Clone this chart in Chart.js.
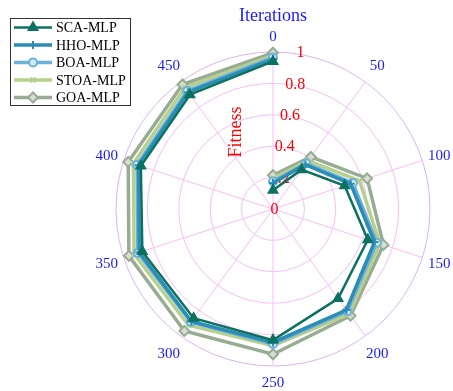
<!DOCTYPE html>
<html>
<head>
<meta charset="utf-8">
<script src="https://cdn.jsdelivr.net/npm/chart.js@4.4.1/dist/chart.umd.min.js"></script>
<style>
  html, body { margin: 0; padding: 0; background: #fff; }
</style>
</head>
<body>
<canvas id="chart" width="453" height="391"></canvas>
<script>
// iterations 0..500, 500 falls on the same spoke as 0
const iterations = [0, 50, 100, 150, 200, 250, 300, 350, 400, 450, 500];
const angleLabels = ["0", "50", "100", "150", "200", "250", "300", "350", "400", "450"];
const radialTicks = [0, 0.2, 0.4, 0.6, 0.8, 1];

const seriesNames = ["SCA-MLP", "HHO-MLP", "BOA-MLP", "STOA-MLP", "GOA-MLP"];
const scaMlp  = [0.12, 0.31, 0.48, 0.635, 0.705, 0.835, 0.86, 0.875, 0.885, 0.90, 0.94];
const hhoMlp  = [0.165, 0.35, 0.52, 0.68, 0.795, 0.85, 0.885, 0.895, 0.90, 0.92, 0.955];
const boaMlp  = [0.175, 0.36, 0.535, 0.695, 0.805, 0.86, 0.89, 0.905, 0.91, 0.93, 0.965];
const stoaMlp = [0.195, 0.38, 0.58, 0.715, 0.825, 0.87, 0.915, 0.93, 0.935, 0.955, 0.978];
const goaMlp  = [0.215, 0.41, 0.63, 0.74, 0.84, 0.925, 0.96, 0.965, 0.97, 0.98, 0.995];

const seriesValues = [scaMlp, hhoMlp, boaMlp, stoaMlp, goaMlp];
const lineColors = ["#0b7262", "#2b8db3", "#6db0da", "#b7d08c", "#98ab93"];
const pointFills = ["#0b7262", "#2b8db3", "#d6eaf6", "#b7d08c", "#d8ded5"];
const pointStyles = ["triangle", "cross", "circle", "crossRot", "rectRot"];
const pointSizes = [5, 4, 4, 3.5, 5];
const lineWidths = [2.5, 3.5, 3.5, 3.5, 3.5];

const serif = '"Liberation Serif", "Times New Roman", serif';
const gridPink = "#f6bff6";
const outerRing = "#d9b4f8";
const gap = [null, null, null, null, null, null, null, null];

function lineSet(i, label, data, firstOnly) {
  return {
    label: label,
    data: data,
    borderColor: lineColors[i],
    borderWidth: lineWidths[i],
    backgroundColor: "transparent",
    fill: false,
    pointStyle: pointStyles[i],
    pointRadius: firstOnly ? (ctx) => (ctx.dataIndex === 0 ? pointSizes[i] : 0) : pointSizes[i],
    pointBorderWidth: 2,
    pointBorderColor: lineColors[i],
    pointBackgroundColor: pointFills[i]
  };
}

// body: 50..450 (index 0 left empty so the loop stays open)
const mainSets = seriesValues.map((vals, i) =>
  lineSet(i, seriesNames[i], [null].concat(vals.slice(1, 10)), false));
// first leg: 0 -> 50
const headSets = seriesValues.map((vals, i) =>
  lineSet(i, seriesNames[i] + " start", [vals[0], vals[1]].concat(gap), true));
// last leg: 450 -> 500 (500 sits on the 0 spoke)
const tailSets = seriesValues.map((vals, i) =>
  lineSet(i, seriesNames[i] + " end", [vals[10]].concat(gap, [vals[9]]), true));

const overlay = {
  id: "overlay",
  beforeDatasetsDraw(chart) {
    const ctx = chart.ctx;
    const r = chart.scales.r;
    ctx.save();
    ctx.fillStyle = "#ff0000";
    ctx.font = "16px " + serif;
    ctx.textAlign = "center";
    ctx.textBaseline = "middle";
    radialTicks.forEach((v) => {
      const d = r.getDistanceFromCenterForValue(v);
      ctx.fillText(String(v), r.xCenter + 1.5 + 0.165 * d, r.yCenter - d + 1);
    });
    ctx.restore();
  },
  afterDraw(chart) {
    const ctx = chart.ctx;
    const r = chart.scales.r;
    ctx.save();

    // angular labels
    ctx.fillStyle = "#1a1aff";
    ctx.font = "15px " + serif;
    ctx.textAlign = "center";
    ctx.textBaseline = "middle";
    angleLabels.forEach((lab, i) => {
      const a = (i * 2 * Math.PI) / angleLabels.length;
      const s = Math.sin(2 * a);
      const p = r.getPointPosition(i, r.drawingArea + 16 + 5 * s * s);
      ctx.fillText(lab, p.x, p.y + 1);
    });

    // titles
    ctx.font = "18px " + serif;
    ctx.fillText("Iterations", r.xCenter, 16);
    ctx.fillStyle = "#ff0000";
    ctx.translate(235, 132);
    ctx.rotate(-Math.PI / 2);
    ctx.fillText("Fitness", 0, 1);
    ctx.restore();

    // legend box
    ctx.save();
    ctx.fillStyle = "#fff";
    ctx.fillRect(10.5, 18.5, 120, 87);
    ctx.strokeStyle = "#333";
    ctx.lineWidth = 1;
    ctx.strokeRect(10.5, 18.5, 120, 87);
    ctx.font = "14px " + serif;
    ctx.textAlign = "left";
    ctx.textBaseline = "middle";
    seriesNames.forEach((name, i) => {
      const ds = chart.data.datasets[i];
      const y = 27.5 + i * 17.5;
      ctx.strokeStyle = ds.borderColor;
      ctx.lineWidth = ds.borderWidth;
      ctx.beginPath();
      ctx.moveTo(14, y);
      ctx.lineTo(52, y);
      ctx.stroke();
      ctx.fillStyle = ds.pointBackgroundColor;
      ctx.strokeStyle = ds.pointBorderColor;
      ctx.lineWidth = ds.pointBorderWidth;
      Chart.helpers.drawPoint(ctx, {
        pointStyle: ds.pointStyle,
        radius: ds.pointRadius,
        borderWidth: ds.pointBorderWidth,
        rotation: 0
      }, 33, y);
      ctx.fillStyle = "#000";
      ctx.fillText(name, 56, y + 1);
    });
    ctx.restore();
  }
};

new Chart(document.getElementById("chart"), {
  type: "radar",
  data: {
    labels: angleLabels,
    datasets: mainSets.concat(headSets, tailSets)
  },
  options: {
    responsive: false,
    animation: false,
    layout: { padding: { left: 116, top: 52, right: 23, bottom: 25 } },
    elements: { line: { tension: 0 } },
    plugins: {
      legend: { display: false },
      tooltip: { enabled: false },
      title: { display: false }
    },
    scales: {
      r: {
        min: 0,
        max: 1,
        ticks: { display: false, stepSize: 0.2 },
        pointLabels: { display: false },
        grid: {
          circular: true,
          lineWidth: 1,
          color: (ctx) => (ctx.tick && ctx.tick.value > 0.999 ? outerRing : gridPink)
        },
        angleLines: { color: gridPink, lineWidth: 1 }
      }
    }
  },
  plugins: [overlay]
});
</script>
</body>
</html>
